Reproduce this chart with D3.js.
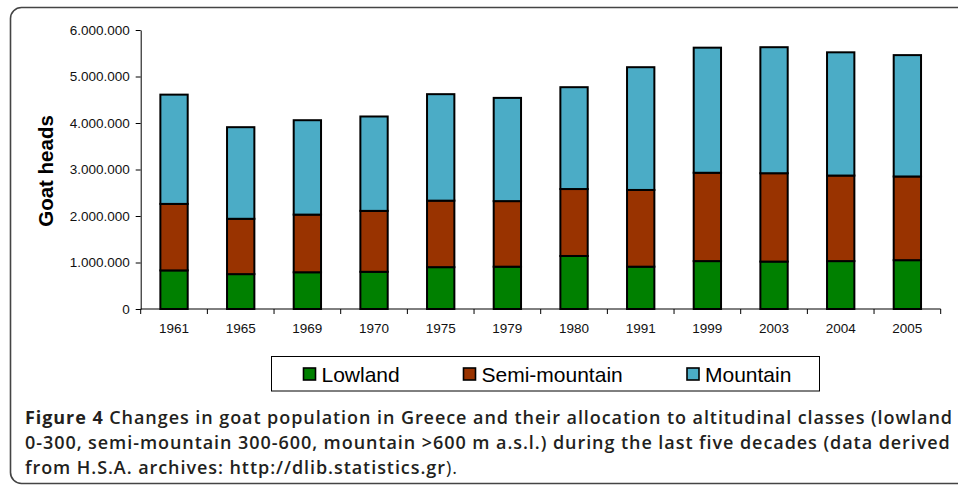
<!DOCTYPE html>
<html>
<head>
<meta charset="utf-8">
<script src="https://cdn.jsdelivr.net/npm/d3@7"></script>
<style>
  html, body { margin: 0; padding: 0; background: #fff; }
  svg { display: block; }
</style>
</head>
<body>
<svg id="chart" width="958" height="488"></svg>
<script>
// Census years
const years = ["1961", "1965", "1969", "1970", "1975", "1979", "1980", "1991", "1999", "2003", "2004", "2005"];

// Goat heads per altitudinal class
const lowland      = [830000, 750000, 790000, 800000, 900000, 910000, 1140000, 910000, 1030000, 1020000, 1030000, 1050000];
const semiMountain = [1430000, 1190000, 1240000, 1310000, 1430000, 1410000, 1440000, 1650000, 1900000, 1900000, 1840000, 1800000];
const mountain     = [2350000, 1970000, 2030000, 2030000, 2290000, 2220000, 2190000, 2640000, 2690000, 2710000, 2650000, 2610000];

const seriesNames = ["Lowland", "Semi-mountain", "Mountain"];
const seriesColors = ["#008000", "#993300", "#4bacc6"];
const yTicks = [0, 1000000, 2000000, 3000000, 4000000, 5000000, 6000000];

const captionBold = "Figure 4";
const captionLines = [
  "Changes in goat population in Greece and their allocation to altitudinal classes (lowland",
  "0-300, semi-mountain 300-600, mountain >600 m a.s.l.) during the last five decades (data derived",
  "from H.S.A. archives: http://dlib.statistics.gr"
];
const captionTail = ").";

const rows = years.map((y, i) => ({
  year: y,
  "Lowland": lowland[i],
  "Semi-mountain": semiMountain[i],
  "Mountain": mountain[i]
}));
const stacked = d3.stack().keys(seriesNames)(rows);

const svg = d3.select("#chart");

// Figure frame
svg.append("rect")
  .attr("x", 10.5).attr("y", 7.5)
  .attr("width", 970).attr("height", 476)
  .attr("rx", 11).attr("ry", 11)
  .attr("fill", "none")
  .attr("stroke", "#444")
  .attr("stroke-width", 1.6);

const plot = { left: 140.7, right: 940.7, top: 30, bottom: 309 };

const x = d3.scaleBand()
  .domain(years)
  .range([plot.left, plot.right])
  .paddingInner(0.59)
  .paddingOuter(0.295);

const y = d3.scaleLinear()
  .domain([0, 6000000])
  .range([plot.bottom, plot.top]);

const locale = d3.formatLocale({ decimal: ",", thousands: ".", grouping: [3], currency: ["", ""] });
const fmt = locale.format(",d");

// Stacked bars
const layers = svg.append("g").selectAll("g")
  .data(stacked)
  .join("g")
  .attr("fill", (d, i) => seriesColors[i]);

layers.selectAll("rect")
  .data(d => d)
  .join("rect")
  .attr("x", d => x(d.data.year))
  .attr("width", x.bandwidth())
  .attr("y", d => y(d[1]))
  .attr("height", d => y(d[0]) - y(d[1]))
  .attr("stroke", "#000")
  .attr("stroke-width", 2);

// Y axis
const yAxis = svg.append("g")
  .attr("transform", `translate(${plot.left},0)`)
  .call(d3.axisLeft(y).tickValues(yTicks).tickFormat(fmt).tickSize(5).tickSizeOuter(0));
yAxis.select(".domain").attr("stroke", "#000");
yAxis.selectAll(".tick line").attr("stroke", "#000");
yAxis.selectAll(".tick text")
  .attr("x", -11)
  .attr("fill", "#111")
  .style("font-family", "Liberation Sans, Arial, sans-serif")
  .style("font-size", "13.5px");

// X axis with ticks on the category boundaries
const xAxis = svg.append("g")
  .attr("transform", `translate(0,${plot.bottom})`);
xAxis.append("line")
  .attr("x1", plot.left).attr("x2", plot.right)
  .attr("stroke", "#000");
xAxis.selectAll("line.tick")
  .data(years.map((d, i) => plot.left + i * x.step()).concat([plot.right]))
  .join("line")
  .attr("class", "tick")
  .attr("x1", d => d).attr("x2", d => d)
  .attr("y1", 0).attr("y2", 5)
  .attr("stroke", "#000");
xAxis.selectAll("text")
  .data(years)
  .join("text")
  .attr("x", d => x(d) + x.bandwidth() / 2)
  .attr("y", 24)
  .attr("text-anchor", "middle")
  .attr("fill", "#111")
  .style("font-family", "Liberation Sans, Arial, sans-serif")
  .style("font-size", "13.5px")
  .text(d => d);

// Y axis title
svg.append("text")
  .attr("transform", `translate(53,171) rotate(-90)`)
  .attr("text-anchor", "middle")
  .style("font-family", "Liberation Sans, Arial, sans-serif")
  .style("font-size", "20.5px")
  .style("font-weight", "bold")
  .attr("fill", "#000")
  .text("Goat heads");

// Legend
const legend = svg.append("g");
legend.append("rect")
  .attr("x", 271.5).attr("y", 356.5)
  .attr("width", 548).attr("height", 34.5)
  .attr("fill", "#fff")
  .attr("stroke", "#000")
  .attr("stroke-width", 1);
const legendX = [303.5, 463.5, 687];
const items = legend.selectAll("g.item")
  .data(seriesNames)
  .join("g")
  .attr("class", "item")
  .attr("transform", (d, i) => `translate(${legendX[i]},368)`);
items.append("rect")
  .attr("width", 12).attr("height", 12)
  .attr("fill", (d, i) => seriesColors[i])
  .attr("stroke", "#000")
  .attr("stroke-width", 1.6);
items.append("text")
  .attr("x", 18).attr("y", 14)
  .style("font-family", "Liberation Sans, Arial, sans-serif")
  .style("font-size", "21px")
  .attr("fill", "#000")
  .text(d => d);

// Caption: three lines, tracked so the first line spans the text column
const capLeft = 25, capRight = 952;
const cap = svg.append("g")
  .style("font-family", "Open Sans, sans-serif")
  .style("font-size", "18px")
  .attr("fill", "#231f20");
const baselines = [424, 449, 474];
const capTexts = captionLines.map((line, i) => {
  const t = cap.append("text").attr("x", capLeft).attr("y", baselines[i]);
  if (i === 0) {
    t.append("tspan").style("font-weight", 700).text(captionBold + " ");
  }
  t.append("tspan").style("font-weight", 600).text(line);
  if (i === captionLines.length - 1) {
    t.append("tspan").style("font-weight", 400).text(captionTail);
  }
  return t;
});
const first = capTexts[0];
const natural = first.node().getComputedTextLength();
const nChars = (captionBold + " " + captionLines[0]).length;
const spacing = Math.max(0, (capRight - capLeft - natural) / (nChars - 1));
cap.style("letter-spacing", spacing + "px");
</script>
</body>
</html>
